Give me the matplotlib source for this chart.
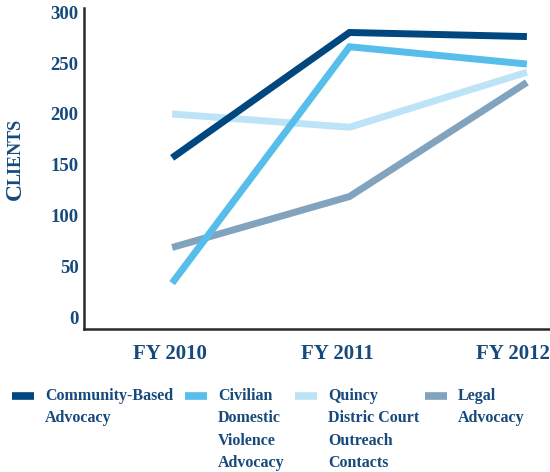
import matplotlib.pyplot as plt
from matplotlib.lines import Line2D

# data
years = ["FY 2010", "FY 2011", "FY 2012"]
community = [157, 280, 276]
civilian = [34, 266, 249]
quincy = [200, 187, 241]
legal = [69, 119, 231]

names = ["Community-Based\nAdvocacy", "Civilian\nDomestic\nViolence\nAdvocacy",
         "Quincy\nDistric Court\nOutreach\nContacts", "Legal\nAdvocacy"]
colors = ["#00467f", "#57bdea", "#bde4f6", "#82a3bd"]

txt = "#174a7c"
plt.rcParams['font.family'] = ['Liberation Serif', 'DejaVu Serif']
plt.rcParams['font.weight'] = 'bold'

fig = plt.figure(figsize=(5.5, 4.72), dpi=100)
ax = fig.add_axes([0.153, 0.303, 0.845, 0.68])

x = range(len(years))
# draw back to front like the reference
for vals, c in [(quincy, colors[2]), (legal, colors[3]), (civilian, colors[1]), (community, colors[0])]:
    ax.plot(x, vals, color=c, lw=5, solid_capstyle='butt', solid_joinstyle='miter')

ax.set_xlim(-0.496, 2.124)
ax.set_ylim(-11, 304)
ax.set_yticks([0, 50, 100, 150, 200, 250, 300])
ax.set_xticks([-0.01, 0.93, 1.92])
ax.set_xticklabels(years, fontsize=15, color=txt, fontweight='bold')
ax.tick_params(axis='y', labelsize=13.5, labelcolor=txt, length=0, pad=4)
ax.tick_params(axis='x', length=0, pad=11)
for s in ['top', 'right']:
    ax.spines[s].set_visible(False)
for s in ['left', 'bottom']:
    ax.spines[s].set_color('#2b2a29')
    ax.spines[s].set_linewidth(1.8)

# small caps axis title
fig.text(0.038, 0.576, "C", rotation=90, fontsize=17, color=txt, fontweight='bold',
         ha='left', va='baseline', rotation_mode='anchor')
fig.text(0.038, 0.609, "LIENTS", rotation=90, fontsize=13, color=txt, fontweight='bold',
         ha='left', va='baseline', rotation_mode='anchor')

# legend drawn by hand
col_x = [0.022, 0.336, 0.536, 0.773]
for cx, name, c in zip(col_x, names, colors):
    fig.add_artist(Line2D([cx, cx + 0.04], [0.161, 0.161], color=c, lw=5.5,
                          transform=fig.transFigure, solid_capstyle='butt'))
    fig.text(cx + 0.06, 0.178, name, fontsize=11.5, color=txt, fontweight='bold',
             va='top', ha='left', linespacing=1.53)

fig.savefig("out.png", dpi=100)
